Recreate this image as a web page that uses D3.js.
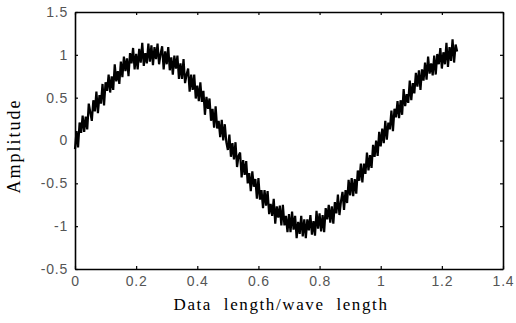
<!DOCTYPE html>
<html>
<head>
<meta charset="utf-8">
<script src="https://cdn.jsdelivr.net/npm/d3@7"></script>
<style>
body{margin:0;background:#fff;}
svg{display:block;}
</style>
</head>
<body>
<svg></svg>
<script>
// axis ticks
var xTicks=[0,0.2,0.4,0.6,0.8,1,1.2,1.4];
var yTicks=[-1.5,-1,-0.5,0,0.5,1,1.5];
var yTickLabels=['-0.5','-1','-0.5','0','0.5','1','1.5'];

// measured amplitude, one sample every 0.005 of data length/wave length
var sampleStep=0.005;
var amplitude=[
-0.10,0.11,-0.08,0.21,0.09,0.29,0.10,0.28,0.13,0.43,
0.33,0.23,0.47,0.34,0.57,0.32,0.53,0.43,0.66,0.41,
0.68,0.58,0.77,0.56,0.75,0.59,0.89,0.69,0.81,0.66,
0.92,0.74,0.98,0.81,0.96,0.75,1.02,0.90,1.08,0.83,
1.01,0.83,1.07,0.91,1.14,0.87,1.02,0.90,1.13,0.92,
1.11,0.88,1.09,0.95,1.13,0.89,1.01,1.10,0.83,1.04,
0.89,1.09,0.82,0.97,0.77,0.99,0.84,0.99,0.72,0.90,
0.72,0.95,0.67,0.77,0.84,0.57,0.77,0.59,0.77,0.49,
0.64,0.46,0.68,0.45,0.58,0.30,0.51,0.37,0.49,0.23,
0.37,0.15,0.40,0.14,0.23,0.04,0.24,0.00,0.19,-0.02,
-0.11,0.07,-0.19,-0.03,-0.22,-0.02,-0.31,-0.18,-0.14,-0.43,
-0.23,-0.40,-0.24,-0.50,-0.38,-0.59,-0.36,-0.54,-0.45,-0.68,
-0.44,-0.69,-0.58,-0.79,-0.58,-0.76,-0.59,-0.86,-0.74,-0.88,
-0.68,-0.97,-0.77,-0.90,-0.76,-0.99,-0.75,-0.99,-0.88,-1.07,
-0.86,-1.07,-0.83,-1.04,-0.88,-1.14,-0.95,-1.09,-0.88,-1.12,
-0.92,-1.14,-0.92,-1.05,-0.87,-1.10,-0.94,-1.11,-0.82,-1.03,
-0.85,-1.06,-0.87,-1.07,-0.79,-0.92,-0.75,-0.96,-0.77,-0.97,
-0.72,-0.85,-0.63,-0.87,-0.71,-0.60,-0.81,-0.58,-0.73,-0.46,
-0.64,-0.44,-0.65,-0.45,-0.62,-0.35,-0.47,-0.27,-0.49,-0.27,
-0.39,-0.14,-0.35,-0.17,-0.32,-0.05,-0.19,0.00,-0.18,0.10,
-0.07,0.14,-0.03,0.23,0.01,0.21,0.13,0.35,0.11,0.37,
0.27,0.46,0.26,0.47,0.30,0.60,0.40,0.54,0.44,0.70,
0.47,0.67,0.55,0.79,0.63,0.82,0.59,0.83,0.70,0.91,
0.71,0.98,0.78,0.90,0.76,0.99,0.77,1.01,0.89,1.08,
0.84,1.03,0.89,1.14,0.86,1.09,0.93,1.18,0.91,1.12,
1.04
];

var width=516;
var height=323;
var plotLeft=75,plotRight=503,plotTop=12,plotBottom=269;

var svg=d3.select('svg')
	.attr('width',width)
	.attr('height',height);

var xScale=d3.scaleLinear()
			.domain([0,1.4])
			.range([plotLeft,plotRight]);
var yScale=d3.scaleLinear()
			.domain([-1.5,1.5])
			.range([plotBottom,plotTop]);

// trace
var line=d3.line()
	.x((d,i)=>xScale(i*sampleStep))
	.y(d=>yScale(d));

svg.append('path')
	.datum(amplitude)
	.attr('d',line)
	.attr('fill','none')
	.attr('stroke','#000')
	.attr('stroke-width',2.2);

// axes, ticks pointing inward
var tickFont='"Liberation Sans", Arial, sans-serif';

var xAxis=d3.axisBottom(xScale)
			.tickValues(xTicks)
			.tickSize(-3)
			.tickSizeOuter(0)
			.tickPadding(7)
			.tickFormat(d3.format('~g'));
var xAxisTop=d3.axisTop(xScale)
			.tickValues(xTicks)
			.tickSize(-3)
			.tickSizeOuter(0)
			.tickFormat('');
var yAxis=d3.axisLeft(yScale)
			.tickValues(yTicks)
			.tickSize(-3)
			.tickSizeOuter(0)
			.tickPadding(7)
			.tickFormat((d,i)=>yTickLabels[i]);
var yAxisRight=d3.axisRight(yScale)
			.tickValues(yTicks)
			.tickSize(-3)
			.tickSizeOuter(0)
			.tickFormat('');

svg.append('g').attr('class','axis').attr('transform','translate(0,'+plotBottom+')').call(xAxis);
svg.append('g').attr('class','axis').attr('transform','translate(0,'+plotTop+')').call(xAxisTop);
svg.append('g').attr('class','axis').attr('transform','translate('+plotLeft+',0)').call(yAxis);
svg.append('g').attr('class','axis').attr('transform','translate('+plotRight+',0)').call(yAxisRight);

svg.selectAll('.axis path').attr('stroke','#000').attr('stroke-width',1.6);
svg.selectAll('.axis line').attr('stroke','#000').attr('stroke-width',1.2);
svg.selectAll('.axis text')
	.style('font-family',tickFont)
	.style('font-size','14px')
	.style('letter-spacing','0.8px')
	.attr('fill','#555');

// labels
svg.append('text')
	.attr('x',281)
	.attr('y',310)
	.style('text-anchor','middle')
	.style('font-family','"Liberation Serif", "Times New Roman", serif')
	.style('font-size','17px')
	.style('letter-spacing','1.6px')
	.style('word-spacing','6px')
	.attr('fill','#000')
	.text('Data length/wave length');

svg.append('text')
	.attr('transform','rotate(-90)')
	.attr('x',-146)
	.attr('y',20)
	.style('text-anchor','middle')
	.style('font-family','"Liberation Serif", "Times New Roman", serif')
	.style('font-size','18px')
	.style('letter-spacing','2px')
	.attr('fill','#000')
	.text('Amplitude');
</script>
</body>
</html>
